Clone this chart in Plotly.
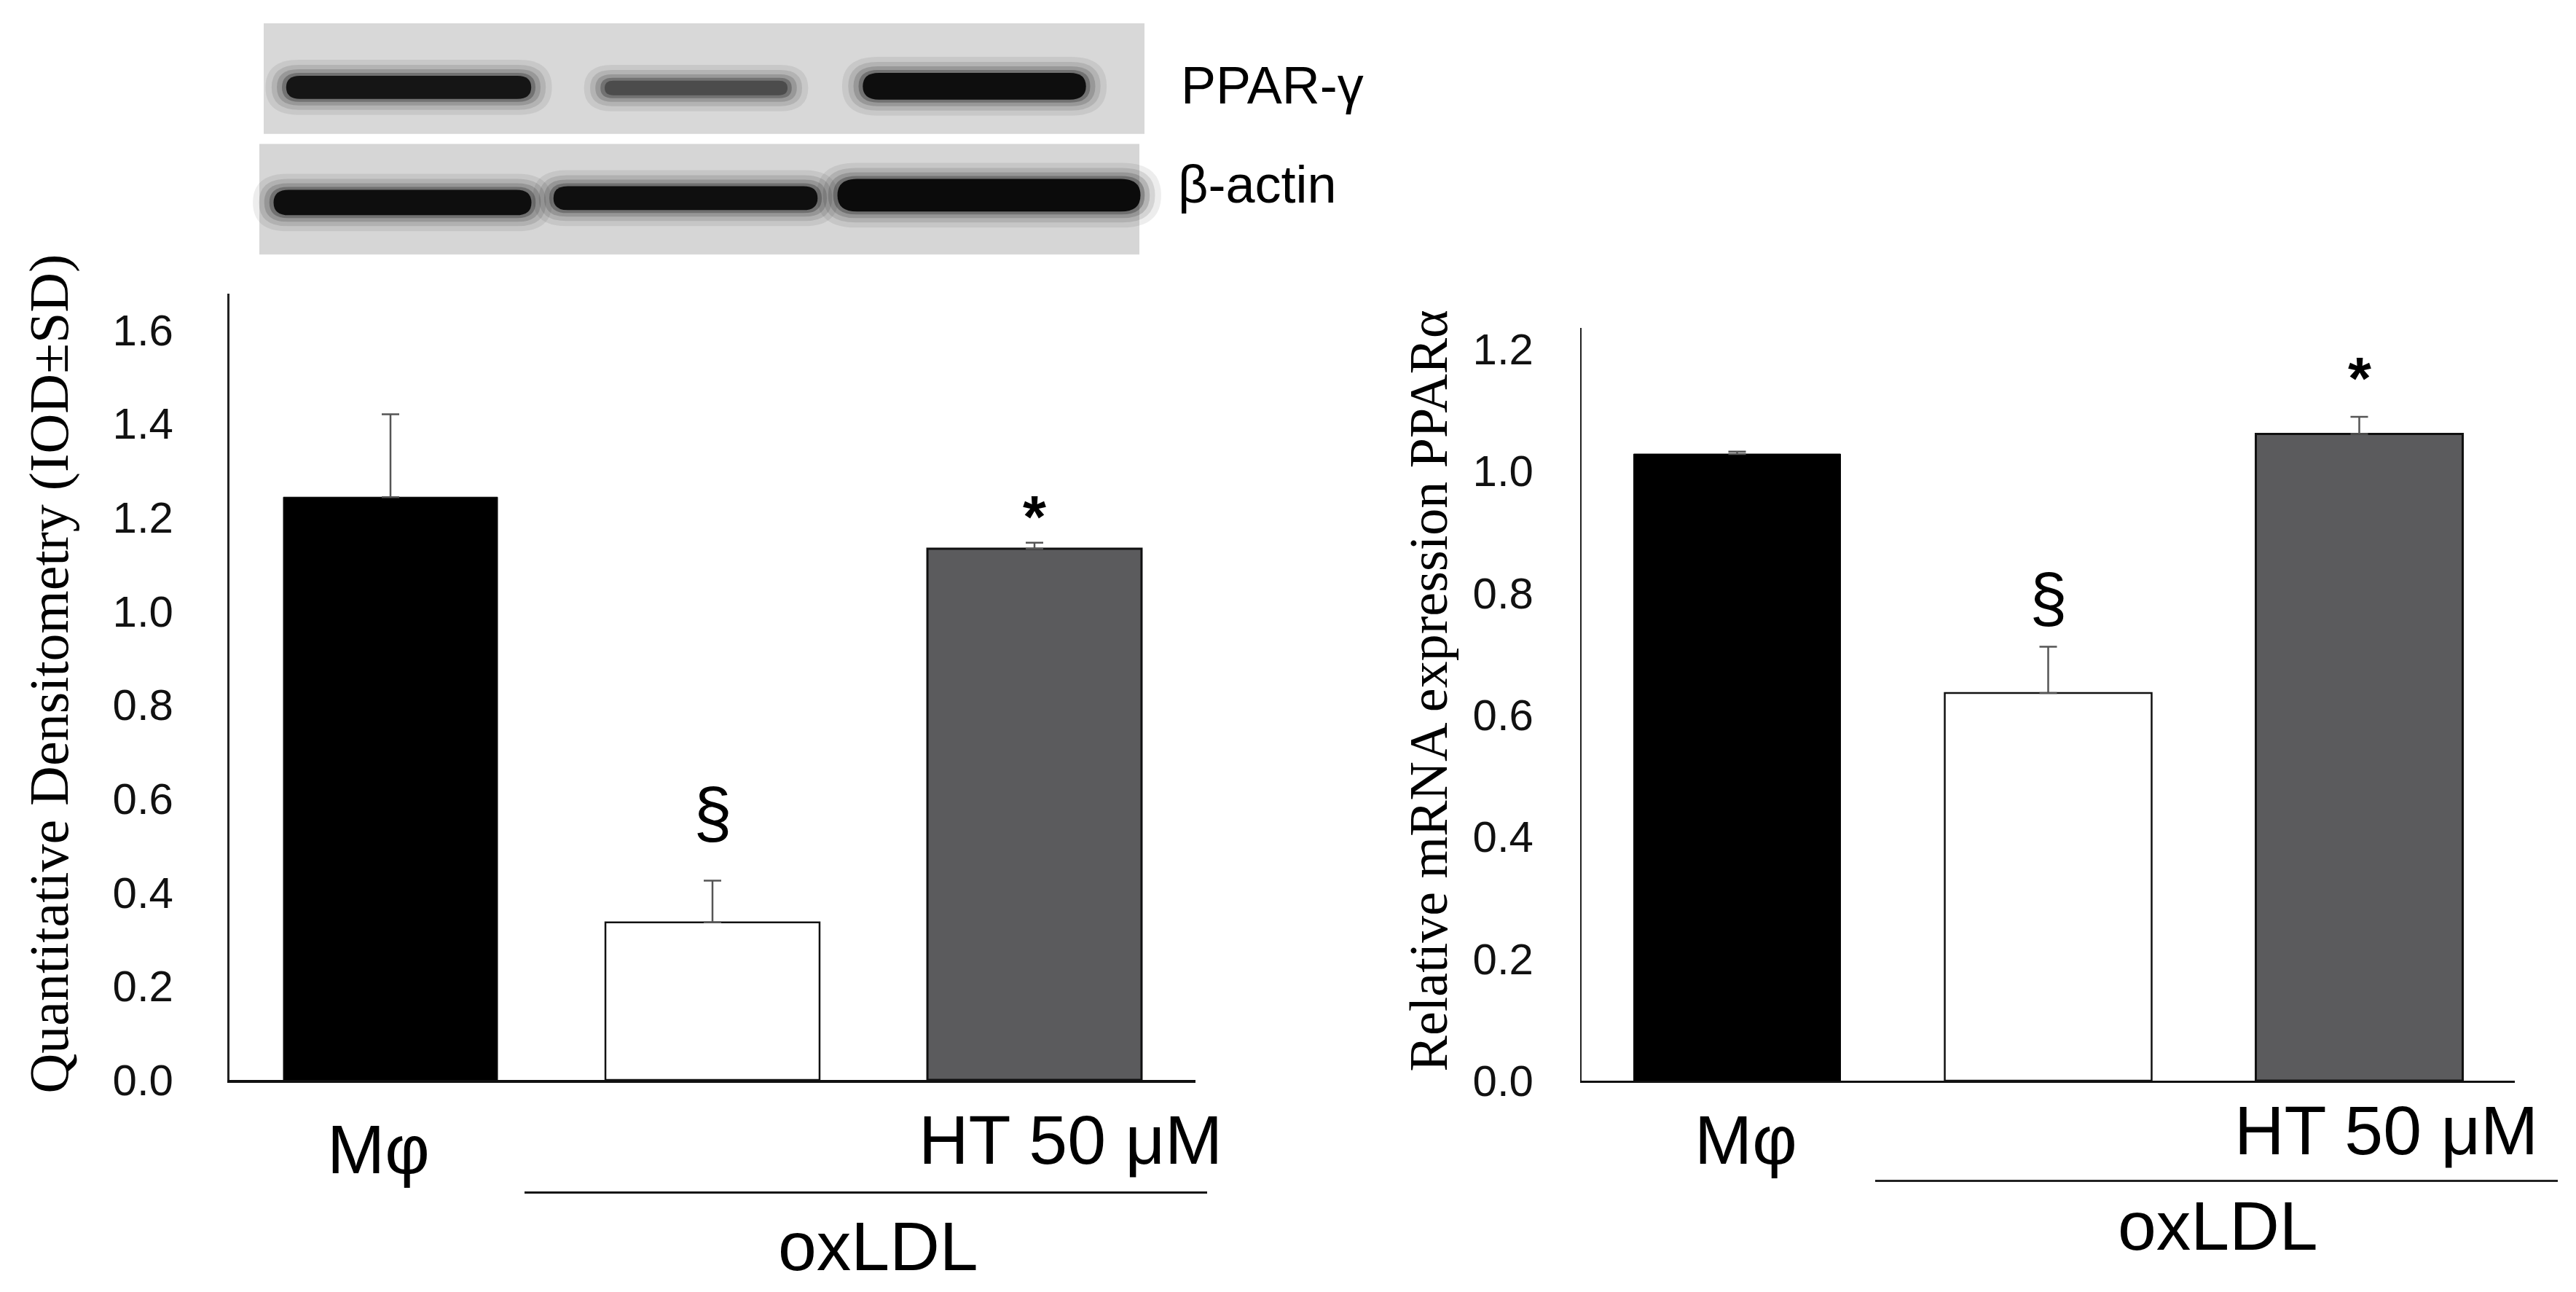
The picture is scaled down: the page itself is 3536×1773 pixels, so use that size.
import plotly.graph_objects as go

# Figure size / placement in the browser window (body margin 8px).
FW, FH = 3510, 1780
OX, OY = 8, 8
SY = 0.982  # vertical factor observed between page pixels and the captured picture

# ---------------- data ----------------
groups = ["Mφ", "oxLDL", "oxLDL + HT 50 μM"]
left_values = [1.243, 0.336, 1.133]
left_sd = [0.177, 0.089, 0.013]
right_values = [1.028, 0.636, 1.061]
right_sd = [0.004, 0.076, 0.028]
left_ticks = [0.0, 0.2, 0.4, 0.6, 0.8, 1.0, 1.2, 1.4, 1.6]
right_ticks = [0.0, 0.2, 0.4, 0.6, 0.8, 1.0, 1.2]
sig_marks = ["", "§", "*"]
left_ytitle = "Quantitative Densitometry (IOD±SD)"
right_ytitle = "Relative mRNA expression PPARα"
blot_labels = ["PPAR-γ", "β-actin"]

# ---------------- styles ----------------
bar_fill = ["#000000", "#ffffff", "#5b5b5d"]
bar_line = ["#000000", "#111111", "#111111"]
bar_line_w = [1, 2.5, 3]
SANS = "Liberation Sans, Arial, sans-serif"
SERIF = "Liberation Serif, Times New Roman, serif"


def px(x):
    """target picture x (px) -> paper fraction"""
    return (x - OX) / FW


def py(y):
    """target picture y (px) -> paper fraction"""
    return 1 - (y / SY - OY) / FH


xpos = list(range(len(groups)))

fig = go.Figure()
for vals, sds, xa, ya in [(left_values, left_sd, "x", "y"), (right_values, right_sd, "x2", "y2")]:
    fig.add_trace(go.Bar(
        x=xpos, y=vals, width=0.665, xaxis=xa, yaxis=ya,
        marker=dict(color=bar_fill, line=dict(color=bar_line, width=bar_line_w)),
        error_y=dict(type="data", array=sds, arrayminus=[0] * len(sds), symmetric=False,
                     color="#555555", thickness=2.5, width=12),
        showlegend=False, hoverinfo="skip",
    ))

axis_common = dict(showgrid=False, zeroline=False, ticks="", showline=True)
fig.update_layout(
    width=FW, height=FH, margin=dict(l=0, r=0, t=0, b=0),
    paper_bgcolor="white", plot_bgcolor="white", showlegend=False,
    xaxis=dict(domain=[px(315), px(1641)], range=[-0.5, 2.5], showticklabels=False,
               linecolor="#111111", linewidth=4, anchor="y", **axis_common),
    yaxis=dict(domain=[py(1483), py(401)], range=[0, 1.677], tickvals=left_ticks,
               ticktext=[f"{t:.1f}" for t in left_ticks], tickfont=dict(family=SANS, size=60, color="#111"),
               ticklabelstandoff=62, linecolor="#222222", linewidth=3, anchor="x", **axis_common),
    xaxis2=dict(domain=[px(2171), px(3452)], range=[-0.5, 2.5], showticklabels=False,
                linecolor="#111111", linewidth=3, anchor="y2", **axis_common),
    yaxis2=dict(domain=[py(1484), py(448)], range=[0, 1.235], tickvals=right_ticks,
                ticktext=[f"{t:.1f}" for t in right_ticks], tickfont=dict(family=SANS, size=60, color="#111"),
                ticklabelstandoff=52, linecolor="#222222", linewidth=2, anchor="x2", **axis_common),
)

ann = []
# significance marks (pixel offset above the error-bar cap)
sig_shift_left = [0, 94, 36]
sig_shift_right = [0, 67, 54]
for i, m in enumerate(sig_marks):
    if not m:
        continue
    txt = "<b>*</b>" if m == "*" else m
    ann.append(dict(x=xpos[i], y=left_values[i] + left_sd[i], xref="x", yref="y", text=txt,
                    showarrow=False, xanchor="center", yanchor="middle", yshift=sig_shift_left[i],
                    font=dict(family=SANS, size=95 if m == "§" else 82, color="#000")))
    ann.append(dict(x=xpos[i], y=right_values[i] + right_sd[i], xref="x2", yref="y2", text=txt,
                    showarrow=False, xanchor="center", yanchor="middle", yshift=sig_shift_right[i],
                    font=dict(family=SANS, size=93 if m == "§" else 82, color="#000")))

# category labels
lab_font = dict(family=SANS, size=95, color="#000")
ann += [
    dict(x=0, xref="x", xshift=-17, y=py(1578), yref="paper", text="Mφ", showarrow=False,
         xanchor="center", yanchor="middle", font=lab_font),
    dict(x=2, xref="x", xshift=49, y=py(1565), yref="paper", text="HT 50 μM", showarrow=False,
         xanchor="center", yanchor="middle", font=lab_font),
    dict(x=px(1205), xref="paper", y=py(1712), yref="paper", text="oxLDL", showarrow=False,
         xanchor="center", yanchor="middle", font=lab_font),
    dict(x=0, xref="x2", xshift=12, y=py(1565), yref="paper", text="Mφ", showarrow=False,
         xanchor="center", yanchor="middle", font=lab_font),
    dict(x=2, xref="x2", xshift=37, y=py(1552), yref="paper", text="HT 50 μM", showarrow=False,
         xanchor="center", yanchor="middle", font=lab_font),
    dict(x=px(3044), xref="paper", y=py(1684), yref="paper", text="oxLDL", showarrow=False,
         xanchor="center", yanchor="middle", font=lab_font),
]
# y titles
ann += [
    dict(x=px(68), y=py(924), xref="paper", yref="paper", text=left_ytitle, textangle=-90,
         showarrow=False, xanchor="center", yanchor="middle", font=dict(family=SERIF, size=76, color="#000")),
    dict(x=px(1961), y=py(948), xref="paper", yref="paper", text=right_ytitle, textangle=-90,
         showarrow=False, xanchor="center", yanchor="middle", font=dict(family=SERIF, size=74, color="#000")),
]
# blot labels
ann += [
    dict(x=px(1619), y=py(114), xref="paper", yref="paper", text=blot_labels[0], showarrow=False,
         xanchor="left", yanchor="middle", font=dict(family=SANS, size=72, color="#000")),
    dict(x=px(1615), y=py(251), xref="paper", yref="paper", text=blot_labels[1], showarrow=False,
         xanchor="left", yanchor="middle", font=dict(family=SANS, size=72, color="#000")),
]

shapes = []
# oxLDL brackets
shapes.append(dict(type="line", xref="paper", yref="paper", x0=px(720), x1=px(1657), y0=py(1638), y1=py(1638),
                   line=dict(color="#111", width=3)))
shapes.append(dict(type="line", xref="paper", yref="paper", x0=px(2574), x1=px(3511), y0=py(1622), y1=py(1622),
                   line=dict(color="#222", width=3)))

# western blot panels (decorative)
shapes.append(dict(type="rect", xref="paper", yref="paper", x0=px(362), x1=px(1571), y0=py(181), y1=py(29),
                   fillcolor="#d8d8d8", line=dict(width=0), layer="below"))
shapes.append(dict(type="rect", xref="paper", yref="paper", x0=px(356), x1=px(1564), y0=py(347), y1=py(195),
                   fillcolor="#d6d6d6", line=dict(width=0), layer="below"))


def band(x0, x1, y0, y1, color, opacity):
    r = (y1 - y0) / 2
    yc = (y0 + y1) / 2
    path = (f"M {px(x0 + r)},{py(y0)} L {px(x1 - r)},{py(y0)} "
            f"Q {px(x1 + r * 0.2)},{py(y0)} {px(x1 + r * 0.2)},{py(yc)} "
            f"Q {px(x1 + r * 0.2)},{py(y1)} {px(x1 - r)},{py(y1)} "
            f"L {px(x0 + r)},{py(y1)} "
            f"Q {px(x0 - r * 0.2)},{py(y1)} {px(x0 - r * 0.2)},{py(yc)} "
            f"Q {px(x0 - r * 0.2)},{py(y0)} {px(x0 + r)},{py(y0)} Z")
    return dict(type="path", xref="paper", yref="paper", path=path, fillcolor=color,
                opacity=opacity, line=dict(width=0), layer="below")


blot_bands = [
    (396, 726, 101, 133, "#101010"), (832, 1079, 108, 128, "#4a4a4a"), (1188, 1487, 97, 134, "#080808"),
    (379, 726, 258, 293, "#080808"), (763, 1119, 253, 286, "#0a0a0a"), (1154, 1561, 243, 288, "#050505"),
]
halo = [(24, 22, 0.07), (17, 15, 0.10), (11, 9, 0.15), (5, 4, 0.25)]
for (x0, x1, y0, y1, c) in blot_bands:
    for dx, dy, op in halo:
        shapes.append(band(x0 - dx, x1 + dx, y0 - dy, y1 + dy, "#000000", op))
    shapes.append(band(x0, x1, y0, y1, c, 0.95))

fig.update_layout(annotations=ann, shapes=shapes)
fig.write_html("out.html")
